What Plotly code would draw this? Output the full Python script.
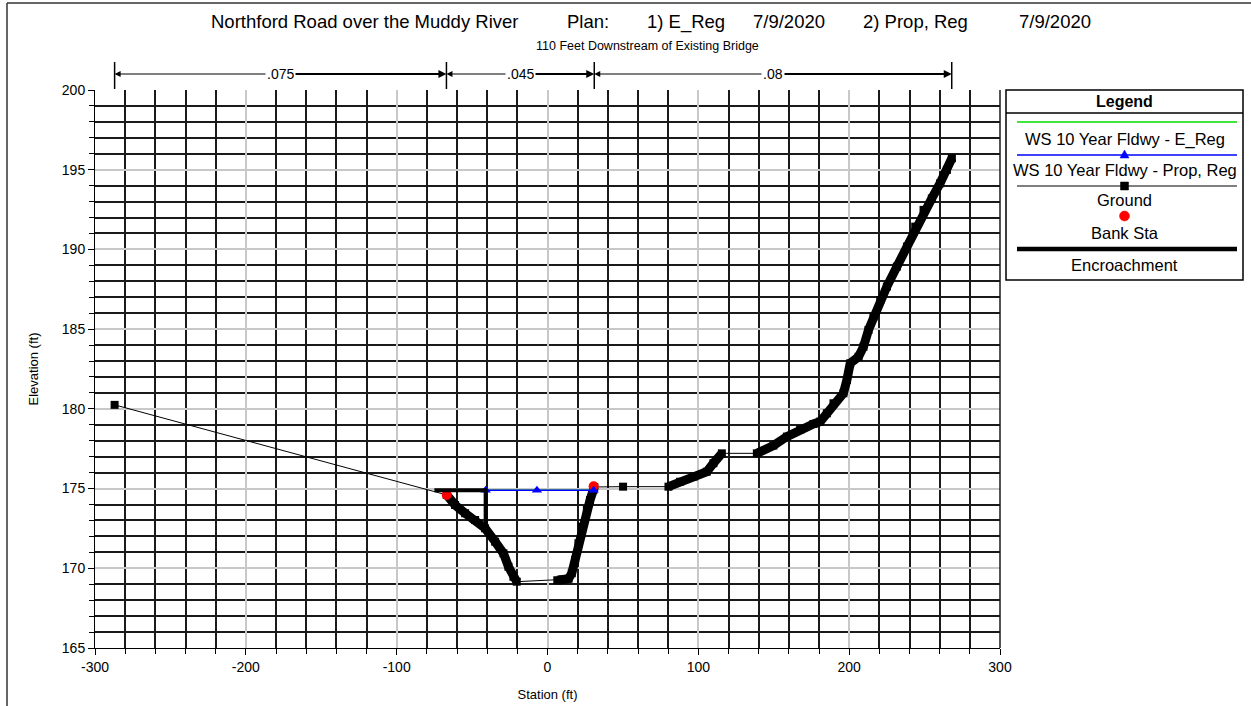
import plotly.graph_objects as go

# ---- Cross-section data (station ft, elevation ft) ----
ground_sta = [-287.0, -66.8, -61.3, -54.6, -48.0, -41.4, -34.7, -29.2, -25.9, -22.6, -20.4,
              6.5, 10.0, 14.0, 16.1, 18.3, 20.5, 22.7, 26.1, 28.2, 30.4, 31.0,
              50.1, 80.2, 87.9, 96.8, 105.6, 110.0, 115.6,
              138.8, 149.8, 158.7, 167.5, 176.3, 180.8, 185.2, 189.6, 196.2, 198.5, 200.7,
              206.2, 209.5, 212.8, 216.1, 220.6, 225.0, 231.6, 238.3, 243.8, 249.3, 254.8,
              260.3, 264.8, 268.1]
ground_elev = [180.25, 174.60, 173.97, 173.45, 173.03, 172.51, 171.67, 170.94, 170.10, 169.47, 169.16,
               169.25, 169.30, 169.35, 169.69, 170.52, 171.57, 172.61, 173.66, 174.28, 174.91, 175.10,
               175.12, 175.12, 175.43, 175.75, 176.06, 176.59, 177.21,
               177.21, 177.70, 178.26, 178.70, 179.05, 179.20, 179.72, 180.35, 180.98, 181.81, 182.86,
               183.27, 183.90, 184.95, 185.78, 186.83, 187.67, 188.92, 190.18, 191.43, 192.48, 193.20,
               194.15, 194.99, 195.72]

bank_sta = [-66.8, 30.6]
bank_elev = [174.60, 175.15]

ws_sta = [-41.0, -7.0, 30.6]
ws_e_reg = [174.9, 174.9, 174.9]
ws_prop_reg = [174.9, 174.9, 174.9]

encr_sta = [-75.0, -41.0, -41.0]
encr_elev = [174.9, 174.9, 172.5]

n_break_sta = [-287.0, -67.0, 31.0, 268.0]
n_values = [".075", ".045", ".08"]

x_tick_vals = [-300, -200, -100, 0, 100, 200, 300]
x_tick_text = ["-300", "-200", "-100", "0", "100", "200", "300"]
y_tick_vals = [165, 170, 175, 180, 185, 190, 195, 200]
y_tick_text = ["165", "170", "175", "180", "185", "190", "195", "200"]

# title pieces and their centre pixel positions
title_parts = ["Northford Road over the Muddy River", "Plan:", "1) E_Reg", "7/9/2020", "2) Prop, Reg", "7/9/2020"]
title_part_x = [364, 588, 686, 789, 915, 1055]
title_sub = "110 Feet Downstream of Existing Bridge"

legend_labels = ["WS 10 Year Fldwy - E_Reg", "WS 10 Year Fldwy - Prop, Reg", "Ground", "Bank Sta", "Encroachment"]

FONT = "Liberation Sans, Arial, sans-serif"
W, H = 1251, 706
PL, PR, PT, PB = 95, 1000, 90, 648


def xp(px):
    return (px - PL) / (PR - PL)


def yp(py):
    return (PB - py) / (PB - PT)


def text_ann(text, px, py, size, color="black", **kw):
    return dict(text=text, xref="paper", yref="paper", x=xp(px), y=yp(py), showarrow=False,
                xanchor="center", yanchor="middle",
                font=dict(family=FONT, size=size, color=color), **kw)


def pixel_shape(kind, px, py, color, **kw):
    return dict(type=kind, xref="paper", yref="paper", xsizemode="pixel", ysizemode="pixel",
                xanchor=xp(px), yanchor=yp(py), fillcolor=color, line=dict(color=color, width=0.5), **kw)


# dense survey reaches drawn as a heavy stroke (closely spaced shots)
thick_x, thick_y = [], []
for i in range(len(ground_sta)):
    if i > 0 and ground_sta[i] - ground_sta[i - 1] >= 12:
        thick_x.append(None)
        thick_y.append(None)
    thick_x.append(ground_sta[i])
    thick_y.append(ground_elev[i])

fig = go.Figure()
fig.add_trace(go.Scatter(x=thick_x, y=thick_y, mode="lines", connectgaps=False,
                         line=dict(color="black", width=9), hoverinfo="skip", showlegend=False))
fig.add_trace(go.Scatter(x=ground_sta, y=ground_elev, mode="lines+markers", name="Ground",
                         line=dict(color="black", width=1),
                         marker=dict(symbol="square", size=8, color="black"), showlegend=False))
fig.add_trace(go.Scatter(x=bank_sta, y=bank_elev, mode="markers", name="Bank Sta",
                         marker=dict(symbol="circle", size=10, color="#ff0000"), showlegend=False))
fig.add_trace(go.Scatter(x=ws_sta, y=ws_e_reg, mode="lines", name="WS 10 Year Fldwy - E_Reg",
                         line=dict(color="#00dd00", width=1.5), showlegend=False))
fig.add_trace(go.Scatter(x=ws_sta, y=ws_prop_reg, mode="lines+markers", name="WS 10 Year Fldwy - Prop, Reg",
                         line=dict(color="#0000ff", width=1.5),
                         marker=dict(symbol="triangle-up", size=9, color="#0000ff"), showlegend=False))
fig.add_trace(go.Scatter(x=encr_sta, y=encr_elev, mode="lines", name="Encroachment",
                         line=dict(color="black", width=4), showlegend=False))

shapes = []
annotations = []

# outer frame
shapes.append(dict(type="line", xref="paper", yref="paper", x0=xp(7), x1=xp(7), y0=yp(3), y1=yp(706),
                   line=dict(color="#333333", width=1.5)))
shapes.append(dict(type="line", xref="paper", yref="paper", x0=xp(7), x1=xp(1251), y0=yp(3), y1=yp(3),
                   line=dict(color="#333333", width=1.5)))
# right edge of the plotting frame
shapes.append(dict(type="line", xref="paper", yref="paper", x0=1, x1=1, y0=0, y1=1,
                   line=dict(color="#1a1a1a", width=1.5)))

# titles
for part, px in zip(title_parts, title_part_x):
    annotations.append(text_ann(part, px, 22, 18.5))
annotations.append(text_ann(title_sub, 647, 46, 12.5))

# Manning's n regions above the plot
n_y = yp(74)
for s in n_break_sta:
    shapes.append(dict(type="line", xref="x", yref="paper", x0=s, x1=s, y0=yp(62), y1=yp(89),
                       line=dict(color="black", width=1.5)))
for i, label in enumerate(n_values):
    a, b = n_break_sta[i], n_break_sta[i + 1]
    mid = (a + b) / 2
    annotations.append(dict(x=a, y=n_y, ax=mid, ay=0, xref="x", yref="paper", axref="x", ayref="pixel",
                            text="", showarrow=True, arrowhead=2, arrowsize=1.2, arrowwidth=1,
                            arrowcolor="black", standoff=0))
    annotations.append(dict(x=b, y=n_y, ax=mid, ay=0, xref="x", yref="paper", axref="x", ayref="pixel",
                            text="", showarrow=True, arrowhead=2, arrowsize=0.8, arrowwidth=2,
                            arrowcolor="black", standoff=0))
    annotations.append(dict(x=mid, y=n_y, xref="x", yref="paper", text=label, showarrow=False,
                            xanchor="center", yanchor="middle", bgcolor="white", borderpad=1,
                            font=dict(family=FONT, size=14, color="black")))

# legend panel
LX0, LX1, LT, LB = 1006, 1243, 90, 280
LC = (LX0 + LX1) / 2
shapes.append(dict(type="rect", xref="paper", yref="paper", x0=xp(LX0), x1=xp(LX1), y0=yp(LT), y1=yp(LB),
                   line=dict(color="black", width=1.5), fillcolor="white", layer="below"))
shapes.append(dict(type="line", xref="paper", yref="paper", x0=xp(LX0), x1=xp(LX1), y0=yp(113), y1=yp(113),
                   line=dict(color="black", width=1.5)))
annotations.append(text_ann("<b>Legend</b>", LC, 101, 16))

sx0, sx1 = xp(1017), xp(1237)
row_line = [122, 155, 186, 216, 249]
row_text = [139, 170, 200, 233, 265]
shapes.append(dict(type="line", xref="paper", yref="paper", x0=sx0, x1=sx1, y0=yp(row_line[0]), y1=yp(row_line[0]),
                   line=dict(color="#00dd00", width=1.5)))
shapes.append(dict(type="line", xref="paper", yref="paper", x0=sx0, x1=sx1, y0=yp(row_line[1]), y1=yp(row_line[1]),
                   line=dict(color="#0000ff", width=1.5)))
shapes.append(dict(type="line", xref="paper", yref="paper", x0=sx0, x1=sx1, y0=yp(row_line[2]), y1=yp(row_line[2]),
                   line=dict(color="black", width=1)))
shapes.append(dict(type="line", xref="paper", yref="paper", x0=sx0, x1=sx1, y0=yp(row_line[4]), y1=yp(row_line[4]),
                   line=dict(color="black", width=4.5)))
for lbl, ty in zip(legend_labels, row_text):
    annotations.append(text_ann(lbl, LC, ty, 16.5))

# legend symbols
shapes.append(pixel_shape("path", LC, row_line[1], "#0000ff", path="M -4.5,-3 L 4.5,-3 L 0,5 Z"))
shapes.append(pixel_shape("rect", LC, row_line[2], "black", x0=-4, x1=4, y0=-4, y1=4))
shapes.append(pixel_shape("circle", LC, row_line[3], "#ff0000", x0=-5, x1=5, y0=-5, y1=5))

axis_font = dict(family=FONT, size=14, color="black")
fig.update_layout(
    width=W, height=H,
    margin=dict(l=PL, r=W - PR, t=PT, b=H - PB, autoexpand=False),
    paper_bgcolor="white", plot_bgcolor="white",
    showlegend=False,
    shapes=shapes, annotations=annotations,
    xaxis=dict(range=[-300, 300], tickvals=x_tick_vals, ticktext=x_tick_text, automargin=False,
               showgrid=True, gridcolor="#c8c8c8", gridwidth=1.5,
               zeroline=False, showline=True, linecolor="black", linewidth=1,
               ticks="outside", ticklen=6, tickcolor="black", tickfont=axis_font,
               minor=dict(dtick=20, tick0=0, showgrid=True, gridcolor="#1a1a1a", gridwidth=1.5,
                          ticks="outside", ticklen=5, tickcolor="black"),
               title=dict(text="Station (ft)", font=dict(family=FONT, size=13, color="black"), standoff=16)),
    yaxis=dict(range=[165, 200], tickvals=y_tick_vals, ticktext=y_tick_text, automargin=False,
               showgrid=True, gridcolor="#c8c8c8", gridwidth=1.5,
               zeroline=False, showline=True, linecolor="black", linewidth=1,
               ticks="outside", ticklen=6, tickcolor="black", tickfont=axis_font,
               minor=dict(dtick=1, tick0=0, showgrid=True, gridcolor="#1a1a1a", gridwidth=1.5,
                          ticks="outside", ticklen=5, tickcolor="black"),
               title=dict(text="Elevation (ft)", font=dict(family=FONT, size=13, color="black"), standoff=20)),
)

fig.write_html("out.html")
